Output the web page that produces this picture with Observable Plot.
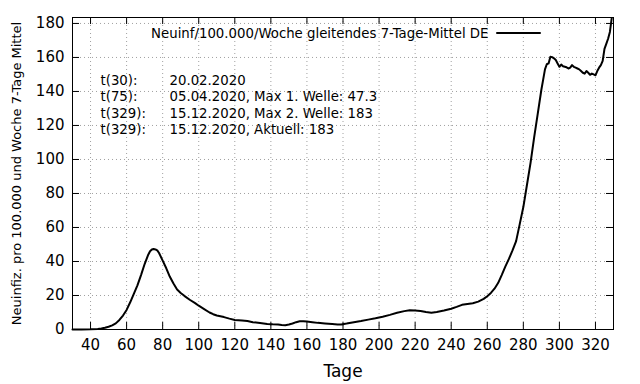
<!DOCTYPE html>
<html>
<head>
<meta charset="utf-8">
<script src="https://cdn.jsdelivr.net/npm/d3@7"></script>
<script src="https://cdn.jsdelivr.net/npm/@observablehq/plot@0.6"></script>
<style>
  html, body { margin: 0; padding: 0; background: #fff; }
  #chart svg { display: block; }
</style>
</head>
<body>
<div id="chart"></div>
<script>
// Tage (days) and 7-day incidence per 100,000
const days = [30,35,40,44,46,48,50,52,54,56,58,60,62,64,66,68,70,72,73,74,75,76,77,78,80,82,84,86,88,90,92,95,98,100,103,106,108,110,114,117,120,124,127,130,134,138,141,144,146,148,150,152,154,156,158,160,163,166,170,174,177,179,182,186,190,194,198,202,206,210,214,217,220,223,226,229,232,236,240,243,246,249,252,255,258,260,262,264,266,268,270,272,274,276,278,280,282,284,286,288,290,291,292,293,294,295,296,297,298,299,300,301,302,303,304,305,306,307,308,309,310,311,312,313,314,315,316,317,318,319,320,321,322,323,324,325,326,327,328,329];
const values = [0,0,0.1,0.3,0.6,1.0,1.6,2.4,3.6,5.6,8.2,11.5,16,21,26,32,38.5,44,46,47,47.3,47.1,46.5,45,40.5,36,31,27,23.5,21.5,19.8,17.5,15.5,14,12,10,9,8.2,7.3,6.4,5.6,5.3,5,4.3,3.8,3.3,3.1,3.0,2.7,2.5,2.9,3.5,4.3,4.8,4.9,4.7,4.3,3.9,3.6,3.3,3.0,3.0,3.5,4.3,5.0,5.8,6.6,7.5,8.6,9.8,10.8,11.3,11.2,10.9,10.3,9.9,10.3,11.2,12.2,13.3,14.5,15.0,15.4,16.4,18,19.6,21.5,24,27.3,32,37,41.5,46.5,52,62,72,85,98,113,127,141,147,153,156,156.5,160.4,160.2,159.5,158.5,156.5,154.5,155.8,154.8,154.5,154.2,153.5,154,155.5,154.5,154,153.5,153,152,151,150.5,152,151,149.8,150.5,150,149.5,152,154,155.5,158,165,168,171,175,183];

const xTicks = [40,60,80,100,120,140,160,180,200,220,240,260,280,300,320];
const yTicks = [0,20,40,60,80,100,120,140,160,180];

const xLabel = "Tage";
const yLabel = "Neuinfiz. pro 100.000 und Woche 7-Tage Mittel";
const legendLabel = "Neuinf/100.000/Woche gleitendes 7-Tage-Mittel DE";

const noteKeys = ["t(30):", "t(75):", "t(329):", "t(329):"];
const noteTexts = ["20.02.2020", "05.04.2020, Max 1. Welle: 47.3", "15.12.2020, Max 2. Welle: 183", "15.12.2020, Aktuell: 183"];

const data = days.map((d, i) => ({day: d, value: values[i]}));

const W = 640, H = 384, ML = 72, MR = 27, MT = 17, MB = 55;
const plotW = W - ML - MR, plotH = H - MT - MB, TICK = 7;
const SMALL = 13.3;

const lineShape = {draw(context, l) { context.moveTo(0, 0); context.lineTo(0, -l); }};

const noteMarks = noteKeys.flatMap((k, i) => [
  Plot.text([k], {frameAnchor: "top-left", dx: 28, dy: 63.5 + i * 16.2, textAnchor: "start", lineAnchor: "middle", fontSize: SMALL}),
  Plot.text([noteTexts[i]], {frameAnchor: "top-left", dx: 97, dy: 63.5 + i * 16.2, textAnchor: "start", lineAnchor: "middle", fontSize: SMALL})
]);

const chart = Plot.plot({
  width: W,
  height: H,
  marginLeft: ML,
  marginRight: MR,
  marginTop: MT,
  marginBottom: MB,
  style: {fontFamily: "DejaVu Sans", fontSize: "15px", background: "#fff", color: "#000", overflow: "visible"},
  x: {domain: [30, 330]},
  y: {domain: [0, 183.5]},
  marks: [
    Plot.gridX(xTicks, {stroke: "#a0a0a0", strokeOpacity: 1, strokeDasharray: "1,3"}),
    Plot.gridY(yTicks, {stroke: "#a0a0a0", strokeOpacity: 1, strokeDasharray: "1,3"}),
    Plot.axisX(xTicks, {anchor: "bottom", tickSize: 0, tickPadding: 10, label: null, fontSize: 15}),
    Plot.axisY(yTicks, {anchor: "left", tickSize: 0, tickPadding: 8, label: null, fontSize: 15}),
    // inward ticks on all four sides
    Plot.ruleX(xTicks, {stroke: "#000", insetTop: plotH - TICK}),
    Plot.ruleX(xTicks, {stroke: "#000", insetBottom: plotH - TICK}),
    Plot.ruleY(yTicks, {stroke: "#000", insetRight: plotW - TICK}),
    Plot.ruleY(yTicks, {stroke: "#000", insetLeft: plotW - TICK}),
    Plot.frame({stroke: "#000", strokeWidth: 1}),
    Plot.line(data, {x: "day", y: "value", stroke: "#000", strokeWidth: 2, strokeLinejoin: "round"}),
    Plot.text([xLabel], {frameAnchor: "bottom", dy: 42, fontSize: 17, lineAnchor: "middle", textAnchor: "middle"}),
    Plot.text([yLabel], {frameAnchor: "left", dx: -56, rotate: -90, fontSize: 13, lineAnchor: "middle", textAnchor: "middle"}),
    Plot.text([legendLabel], {frameAnchor: "top-right", dx: -125, dy: 16, textAnchor: "end", lineAnchor: "middle", fontSize: SMALL}),
    Plot.vector([legendLabel], {frameAnchor: "top-right", dx: -116.5, dy: 15.5, length: 43, rotate: 90, anchor: "start", shape: lineShape, stroke: "#000", strokeWidth: 2}),
    ...noteMarks
  ]
});
document.getElementById("chart").appendChild(chart);
</script>
</body>
</html>
